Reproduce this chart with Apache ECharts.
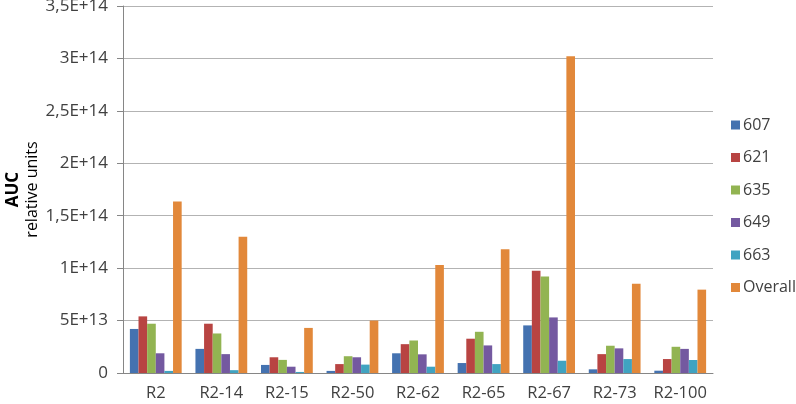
<!DOCTYPE html>
<html>
<head>
<meta charset="utf-8">
<script src="https://cdn.jsdelivr.net/npm/echarts@6/dist/echarts.min.js"></script>
<style>
  html, body { margin: 0; padding: 0; background: #fff; }
  #chart { width: 796px; height: 404px; }
</style>
</head>
<body>
<div id="chart"></div>
<script>
// categories
const samples = ['R2', 'R2-14', 'R2-15', 'R2-50', 'R2-62', 'R2-65', 'R2-67', 'R2-73', 'R2-100'];
const seriesNames = ['607', '621', '635', '649', '663', 'Overall'];

// values in units of 1E13
const v607 = [4.2, 2.3, 0.77, 0.2, 1.88, 0.95, 4.54, 0.35, 0.22];
const v621 = [5.4, 4.7, 1.5, 0.85, 2.75, 3.27, 9.74, 1.8, 1.33];
const v635 = [4.7, 3.77, 1.25, 1.6, 3.1, 3.93, 9.2, 2.6, 2.5];
const v649 = [1.88, 1.8, 0.6, 1.5, 1.78, 2.63, 5.3, 2.35, 2.3];
const v663 = [0.2, 0.27, 0.1, 0.8, 0.6, 0.85, 1.17, 1.33, 1.24];
const vOverall = [16.35, 13.0, 4.3, 5.0, 10.3, 11.8, 30.2, 8.5, 7.95];

const colors = ['#4472B0', '#B84442', '#92B452', '#7459A0', '#40A3C1', '#E2883A'];
const scale = 1e13;
const allValues = [v607, v621, v635, v649, v663, vOverall];

const fontFam = '"Open Sans", sans-serif';

const chart = echarts.init(document.getElementById('chart'));

const option = {
  animation: false,
  color: colors,
  grid: { left: 123, right: 83, top: 6, bottom: 31, outerBoundsMode: 'none' },
  legend: {
    orient: 'vertical',
    left: 726,
    top: 110,
    itemWidth: 9,
    itemHeight: 9,
    itemGap: 12.5,
    icon: 'rect',
    textStyle: { fontFamily: fontFam, fontSize: 16, color: '#404040', lineHeight: 20, padding: [0, 0, 0, -2] },
    data: seriesNames
  },
  xAxis: {
    type: 'category',
    data: samples,
    axisLine: { lineStyle: { color: '#868686' } },
    axisTick: { show: false },
    axisLabel: { interval: 0, fontFamily: fontFam, fontSize: 16.5, color: '#404040', margin: 12 }
  },
  yAxis: {
    type: 'value',
    min: 0,
    max: 3.5e14,
    interval: 5e13,
    name: '{a|AUC}\n{b|relative units}',
    nameLocation: 'middle',
    nameRotate: 90,
    nameGap: 81,
    nameMoveOverlap: false,
    nameTextStyle: {
      rich: {
        a: { fontFamily: fontFam, fontSize: 17, fontWeight: 'bold', color: '#000', lineHeight: 19 },
        b: { fontFamily: fontFam, fontSize: 16, color: '#000', lineHeight: 19 }
      }
    },
    axisLine: { show: true, lineStyle: { color: '#868686' } },
    axisTick: { show: true, inside: false, length: 6, lineStyle: { color: '#868686' } },
    splitLine: { lineStyle: { color: '#B3B3B3', width: 1 } },
    axisLabel: {
      fontFamily: fontFam,
      fontSize: 17,
      color: '#404040',
      margin: 15,
      formatter: function (val) {
        if (val === 0) return '0';
        const exp = Math.floor(Math.log10(val) + 1e-9);
        const mant = Math.round(val / Math.pow(10, exp) * 10) / 10;
        return String(mant).replace('.', ',') + 'E+' + exp;
      }
    }
  },
  series: seriesNames.map((name, i) => ({
    name: name,
    type: 'bar',
    barGap: '0%',
    barCategoryGap: '21%',
    data: allValues[i].map(v => v * scale)
  }))
};

chart.setOption(option);
</script>
</body>
</html>
